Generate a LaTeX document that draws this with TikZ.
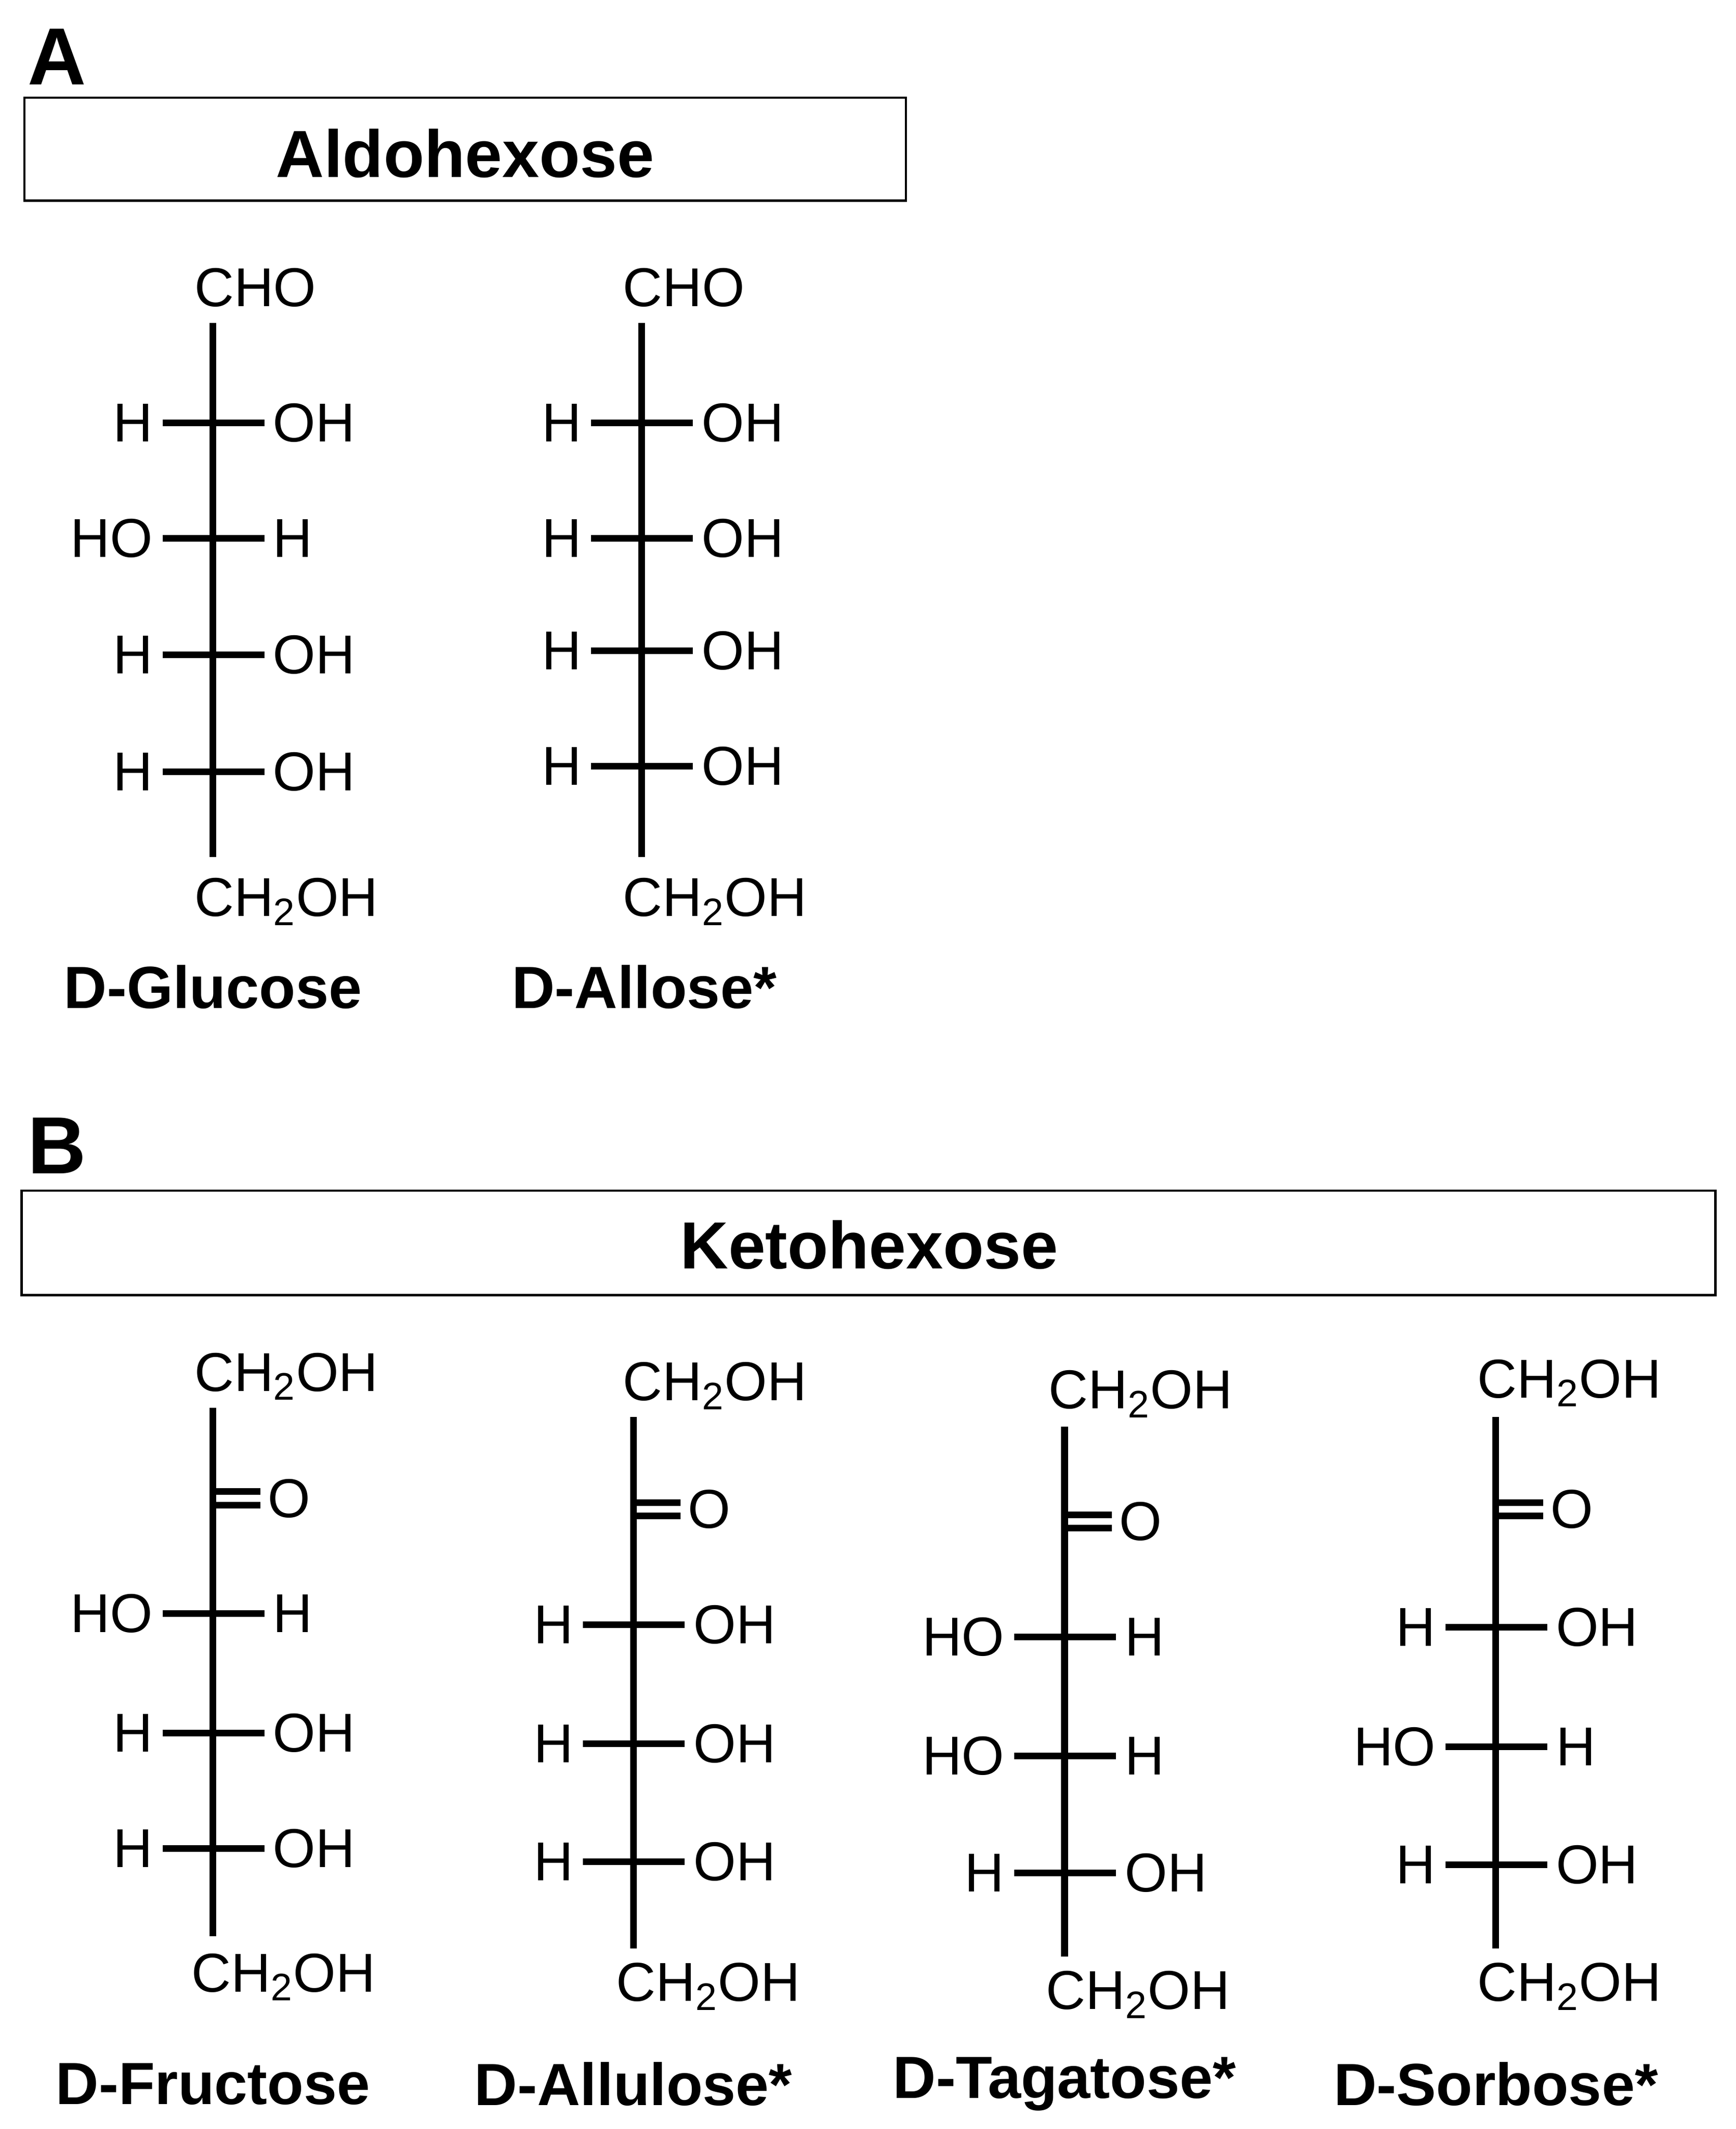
\documentclass[tikz,border=0pt]{standalone}
\usepackage{fontspec}
\setmainfont{Liberation Sans}
\begin{document}
\begin{tikzpicture}[x=0.02cm,y=-0.02cm,
  bond/.style={line width=2.8pt},
  atom/.style={inner sep=0pt,font=\fontsize{23}{26}\selectfont},
  title/.style={font=\fontsize{28}{32}\selectfont\bfseries},
  sname/.style={font=\fontsize{25}{29}\selectfont\bfseries},
  panel/.style={font=\fontsize{34}{38}\selectfont\bfseries},
  hbox/.style={draw,line width=1pt}]
\useasboundingbox (0,0) rectangle (1280,1570);
\newcommand{\subst}[5]{%
  \node[atom,anchor=east] (#1l) at (#2-44,#3) {#4};
  \node[atom,anchor=west] (#1r) at (#2+44,#3) {#5};
  \draw[bond] (#2-37,#3) -- (#2+38,#3);}
\newcommand{\keto}[3]{%
  \draw[bond] (#2,#3-5) -- (#2+35,#3-5);
  \draw[bond] (#2,#3+5) -- (#2+35,#3+5);
  \node[atom,anchor=west] (#1) at (#2+40,#3) {O};}
% Panel A
\node[panel] (pa) at (42,42) {A};
\draw[hbox] (18,72) rectangle (668,148);
\node[title] (ta) at (343,113) {Aldohexose};
% Glucose
\node[atom,anchor=west] (g0) at (143,212) {CHO};
\node[atom,anchor=west] (g6) at (143,665) {CH\textsubscript{2}OH};
\draw[bond] (157,238) -- (157,632);
\subst{g1}{157}{312}{H}{OH}
\subst{g2}{157}{397}{HO}{H}
\subst{g3}{157}{483}{H}{OH}
\subst{g4}{157}{569}{H}{OH}
\node[sname] (ng) at (157,728) {D-Glucose};
% Allose
\node[atom,anchor=west] (a0) at (459,212) {CHO};
\node[atom,anchor=west] (a6) at (459,665) {CH\textsubscript{2}OH};
\draw[bond] (473,238) -- (473,632);
\subst{a1}{473}{312}{H}{OH}
\subst{a2}{473}{397}{H}{OH}
\subst{a3}{473}{480}{H}{OH}
\subst{a4}{473}{565}{H}{OH}
\node[sname] (na) at (475,728) {D-Allose*};
% Panel B
\node[panel] (pb) at (42,845) {B};
\draw[hbox] (16,878) rectangle (1265,955);
\node[title] (tb) at (641,918) {Ketohexose};
% Fructose
\node[atom,anchor=west] (f0) at (143,1015) {CH\textsubscript{2}OH};
\node[atom,anchor=west] (f6) at (141,1458) {CH\textsubscript{2}OH};
\draw[bond] (157,1038) -- (157,1428);
\keto{f1}{157}{1105}
\subst{f2}{157}{1190}{HO}{H}
\subst{f3}{157}{1278}{H}{OH}
\subst{f4}{157}{1363}{H}{OH}
\node[sname] (nf) at (157,1537) {D-Fructose};
% Allulose
\node[atom,anchor=west] (u0) at (459,1022) {CH\textsubscript{2}OH};
\node[atom,anchor=west] (u6) at (454,1465) {CH\textsubscript{2}OH};
\draw[bond] (467,1045) -- (467,1437);
\keto{u1}{467}{1113}
\subst{u2}{467}{1198}{H}{OH}
\subst{u3}{467}{1286}{H}{OH}
\subst{u4}{467}{1373}{H}{OH}
\node[sname] (nu) at (467,1537) {D-Allulose*};
% Tagatose
\node[atom,anchor=west] (t0) at (773,1028) {CH\textsubscript{2}OH};
\node[atom,anchor=west] (t6) at (771,1471) {CH\textsubscript{2}OH};
\draw[bond] (785,1052) -- (785,1443);
\keto{t1}{785}{1122}
\subst{t2}{785}{1207}{HO}{H}
\subst{t3}{785}{1295}{HO}{H}
\subst{t4}{785}{1381}{H}{OH}
\node[sname] (nt) at (785,1537) {D-Tagatose*};
% Sorbose
\node[atom,anchor=west] (s0) at (1089,1020) {CH\textsubscript{2}OH};
\node[atom,anchor=west] (s6) at (1089,1465) {CH\textsubscript{2}OH};
\draw[bond] (1103,1045) -- (1103,1437);
\keto{s1}{1103}{1113}
\subst{s2}{1103}{1200}{H}{OH}
\subst{s3}{1103}{1288}{HO}{H}
\subst{s4}{1103}{1375}{H}{OH}
\node[sname] (ns) at (1103,1537) {D-Sorbose*};
\end{tikzpicture}
\end{document}
